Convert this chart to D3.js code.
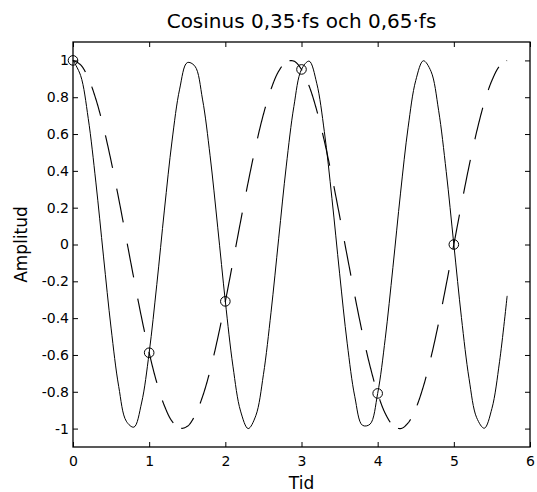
<!DOCTYPE html>
<html>
<head>
<meta charset="utf-8">
<script src="https://cdn.jsdelivr.net/npm/d3@7"></script>
<style>
  body { margin: 0; background: #fff; }
  text { font-family: "DejaVu Sans", sans-serif; fill: #000; }
</style>
</head>
<body>
<div id="chart"></div>
<script>
// svg container
var width = 537
var height = 492

var margin = { top: 42, right: 7, bottom: 45, left: 73 };
var chartWidth = width - margin.left - margin.right;
var chartHeight = height - margin.top - margin.bottom;

// time axis, step 0.1 from 0 to 5.7
var tid = [0, 0.1, 0.2, 0.3, 0.4, 0.5, 0.6, 0.7, 0.8, 0.9,
  1, 1.1, 1.2, 1.3, 1.4, 1.5, 1.6, 1.7, 1.8, 1.9,
  2, 2.1, 2.2, 2.3, 2.4, 2.5, 2.6, 2.7, 2.8, 2.9,
  3, 3.1, 3.2, 3.3, 3.4, 3.5, 3.6, 3.7, 3.8, 3.9,
  4, 4.1, 4.2, 4.3, 4.4, 4.5, 4.6, 4.7, 4.8, 4.9,
  5, 5.1, 5.2, 5.3, 5.4, 5.5, 5.6, 5.7];

// 0,65 fs (solid)
var cos065 = [1, 0.918, 0.685, 0.339, -0.063, -0.454, -0.771, -0.960, -0.992, -0.861,
  -0.588, -0.218, 0.187, 0.562, 0.844, 0.988, 0.969, 0.790, 0.482, 0.094,
  -0.309, -0.661, -0.905, -1.000, -0.930, -0.707, -0.368, 0.031, 0.426, 0.750,
  0.951, 0.996, 0.876, 0.613, 0.249, -0.156, -0.536, -0.827, -0.982, -0.976,
  -0.809, -0.509, -0.125, 0.279, 0.637, 0.891, 0.998, 0.941, 0.729, 0.397,
  0, -0.397, -0.729, -0.941, -0.998, -0.891, -0.637, -0.279];

// 0,35 fs (dashed)
var cos035 = [1, 0.976, 0.905, 0.790, 0.637, 0.454, 0.249, 0.031, -0.187, -0.397,
  -0.588, -0.750, -0.876, -0.960, -0.998, -0.988, -0.930, -0.827, -0.685, -0.509,
  -0.309, -0.094, 0.125, 0.339, 0.536, 0.707, 0.844, 0.941, 0.992, 0.996,
  0.951, 0.861, 0.729, 0.562, 0.368, 0.156, -0.063, -0.279, -0.482, -0.661,
  -0.809, -0.918, -0.982, -1.000, -0.969, -0.891, -0.771, -0.613, -0.426, -0.218,
  0, 0.218, 0.426, 0.613, 0.771, 0.891, 0.969, 1.000];

// samples (circles)
var sampleT = [0, 1, 2, 3, 4, 5];
var sampleV = [1, -0.588, -0.309, 0.951, -0.809, 0];

var xTicks = [0, 1, 2, 3, 4, 5, 6];
var yTicks = [-1, -0.8, -0.6, -0.4, -0.2, 0, 0.2, 0.4, 0.6, 0.8, 1];

var svg = d3.select('#chart').append('svg')
    .attr('width', width)
    .attr('height', height);

var chartGroup = svg.append('g')
    .attr('transform', `translate(${margin.left}, ${margin.top})`);

var x = d3.scaleLinear().domain([0, 6]).range([0, chartWidth]);
var y = d3.scaleLinear().domain([-1.1, 1.1]).range([chartHeight, 0]);

var fmt = d => String(d);

// axes, ticks inside
chartGroup.append('g')
    .attr('transform', `translate(0, ${chartHeight})`)
    .call(d3.axisBottom(x).tickValues(xTicks).tickFormat(fmt).tickSizeInner(-5).tickSizeOuter(0).tickPadding(9));
chartGroup.append('g')
    .call(d3.axisTop(x).tickValues(xTicks).tickFormat('').tickSizeInner(-5).tickSizeOuter(0));
chartGroup.append('g')
    .call(d3.axisLeft(y).tickValues(yTicks).tickFormat(fmt).tickSizeInner(-5).tickSizeOuter(0).tickPadding(4));
chartGroup.append('g')
    .attr('transform', `translate(${chartWidth}, 0)`)
    .call(d3.axisRight(y).tickValues(yTicks).tickFormat('').tickSizeInner(-5).tickSizeOuter(0));

chartGroup.selectAll('.domain').remove();
chartGroup.selectAll('.tick line').attr('stroke', '#000');
chartGroup.selectAll('.tick text')
    .style('font-size', '14px')
    .style('font-family', '"DejaVu Sans", sans-serif');

chartGroup.append('rect')
    .attr('width', chartWidth)
    .attr('height', chartHeight)
    .attr('fill', 'none')
    .attr('stroke', '#000')
    .attr('stroke-width', 1.3);

var line = d3.line()
    .x((d, i) => x(tid[i]))
    .y(d => y(d))
    .curve(d3.curveCatmullRom);

chartGroup.append('path')
    .datum(cos065)
    .attr('d', line)
    .attr('fill', 'none')
    .attr('stroke', '#000')
    .attr('stroke-width', 1);

// dashed curve: dash lengths measured with y squeezed, so steep parts get long dashes
var guide = chartGroup.append('path')
    .datum(cos035)
    .attr('d', line)
    .attr('fill', 'none')
    .attr('stroke', 'none');

var node = guide.node();
var total = node.getTotalLength();
var pattern = [13, 8];
var dashes = [];
var cur = [];
var on = true, acc = 0, k = 0;
var prev = node.getPointAtLength(0);
cur.push([prev.x, prev.y]);
for (var s = 0.5; s <= total; s += 0.5) {
    var p = node.getPointAtLength(s);
    var dx = p.x - prev.x, dy = (p.y - prev.y) / 3;
    acc += Math.sqrt(dx * dx + dy * dy);
    if (on) cur.push([p.x, p.y]);
    if (acc >= pattern[k]) {
        acc = 0;
        k = 1 - k;
        if (on) { dashes.push(cur); cur = []; }
        else { cur = [[p.x, p.y]]; }
        on = !on;
    }
    prev = p;
}
if (on && cur.length > 1) dashes.push(cur);

chartGroup.selectAll('.dash')
    .data(dashes)
    .enter()
    .append('path')
    .attr('class', 'dash')
    .attr('d', d3.line())
    .attr('fill', 'none')
    .attr('stroke', '#000')
    .attr('stroke-width', 1.15);

chartGroup.selectAll('circle')
    .data(sampleT)
    .enter()
    .append('circle')
    .attr('cx', d => x(d))
    .attr('cy', (d, i) => y(sampleV[i]))
    .attr('r', 4.8)
    .attr('fill', 'none')
    .attr('stroke', '#000')
    .attr('stroke-width', 1);

// labels
svg.append('text')
    .attr('x', margin.left + chartWidth / 2)
    .attr('y', 28)
    .attr('text-anchor', 'middle')
    .style('font-size', '20px')
    .text('Cosinus 0,35·fs och 0,65·fs');

svg.append('text')
    .attr('x', margin.left + chartWidth / 2)
    .attr('y', 489)
    .attr('text-anchor', 'middle')
    .style('font-size', '17px')
    .text('Tid');

svg.append('text')
    .attr('transform', 'rotate(-90)')
    .attr('x', -(margin.top + chartHeight / 2))
    .attr('y', 27)
    .attr('text-anchor', 'middle')
    .style('font-size', '17px')
    .text('Amplitud');
</script>
</body>
</html>
